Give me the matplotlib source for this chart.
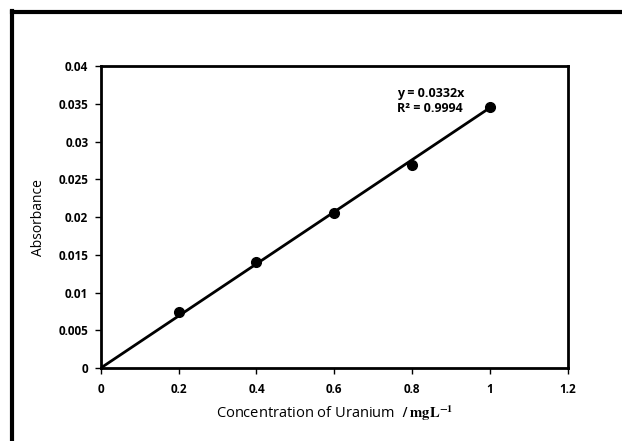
import matplotlib.pyplot as plt
from matplotlib.lines import Line2D

# Calibration data
conc = [0.2, 0.4, 0.6, 0.8, 1.0]
absorb = [0.0074, 0.014, 0.0205, 0.0269, 0.0346]
fit_x = [0, 1.0]
fit_y = [0, 0.0345]

plt.rcParams['font.family'] = ['Open Sans', 'DejaVu Sans']
plt.rcParams['mathtext.fontset'] = 'stix'

fig = plt.figure(figsize=(6.22, 4.41), dpi=100)
ax = fig.add_axes([0.162, 0.1655, 0.751, 0.6845])

ax.plot(fit_x, fit_y, color='black', lw=2)
ax.plot(conc, absorb, 'o', color='black', ms=7)

ax.set_xlim(0, 1.2)
ax.set_ylim(0, 0.04)
ax.set_xticks([0, 0.2, 0.4, 0.6, 0.8, 1, 1.2])
ax.set_xticklabels(['0', '0.2', '0.4', '0.6', '0.8', '1', '1.2'])
ax.set_yticks([0, 0.005, 0.01, 0.015, 0.02, 0.025, 0.03, 0.035, 0.04])
ax.set_yticklabels(['0', '0.005', '0.01', '0.015', '0.02', '0.025', '0.03', '0.035', '0.04'])
for lab in ax.get_xticklabels() + ax.get_yticklabels():
    lab.set_fontweight('bold')
    lab.set_fontsize(8.5)
ax.tick_params(axis='y', direction='out', length=4, width=1, pad=5)
ax.tick_params(axis='x', direction='out', length=4, width=1, pad=7)
for s in ax.spines.values():
    s.set_linewidth(2)

ax.set_ylabel('Absorbance', fontsize=10, labelpad=9)
ax.set_xlabel('Concentration of Uranium  $\\mathbf{/\\ mgL^{-1}}$', fontsize=10.5, labelpad=5)

ax.text(0.762, 0.0359, 'y = 0.0332x', fontsize=9, fontweight='bold')
ax.text(0.762, 0.0339, 'R² = 0.9994', fontsize=9, fontweight='bold')

# outer frame
fig.add_artist(Line2D([0.019, 1.0], [0.972, 0.972], color='black', lw=3, transform=fig.transFigure))
fig.add_artist(Line2D([0.019, 0.019], [0.0, 0.975], color='black', lw=3, transform=fig.transFigure))

fig.savefig('out.png', dpi=100)
